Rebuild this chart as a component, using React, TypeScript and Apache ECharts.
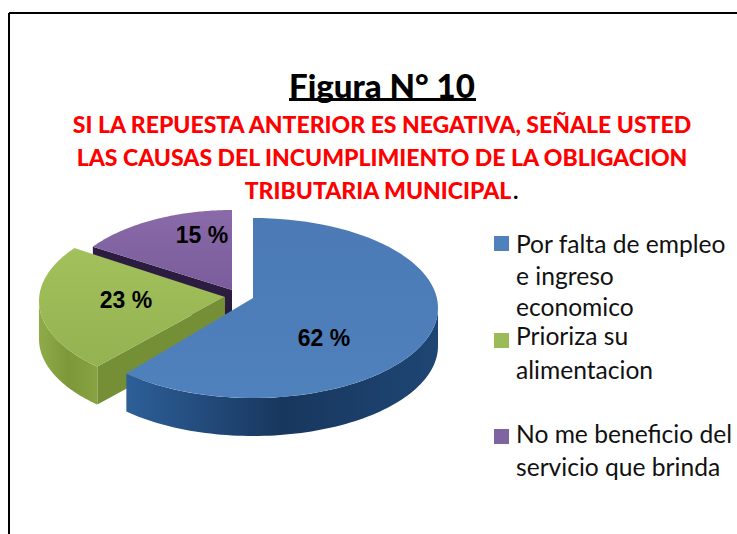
import React, { useEffect, useRef } from "react";
import * as echarts from "echarts";

const categories = ["Por falta de empleo", "Prioriza su", "No me beneficio del"];
const legendLines = [
  ["Por falta de empleo", "e ingreso", "economico"],
  ["Prioriza su", "alimentacion"],
  ["No me beneficio del", "servicio que brinda"],
];
const values = [62, 23, 15];
const titleText = "Figura N° 10";
const subtitleLines = [
  "SI LA REPUESTA ANTERIOR ES NEGATIVA, SEÑALE USTED",
  "LAS CAUSAS DEL INCUMPLIMIENTO DE LA OBLIGACION",
  "TRIBUTARIA MUNICIPAL",
];

const DEPTH = 38;
const looks = [
  { cx: 253, cy: 308, rx: 185, ry: 90, ax: 253, ay: 298, top: ["#4b7ab5", "#4f81bd"], wall: ["#1e4674", "#18375e", "#2d5f98"], cut: "#2f5f99", lx: 324, ly: 338, z: 3 },
  { cx: 224, cy: 301, rx: 185, ry: 90, ax: 225, ay: 297, top: ["#a2c05c", "#94b24f"], wall: ["#87a23f", "#7d983a", "#8fab49"], cut: "#748f36", lx: 126, ly: 300, z: 2 },
  { cx: 232, cy: 299, rx: 172, ry: 89, ax: 232, ay: 290, top: ["#8a6aa8", "#7a5c9c"], wall: ["#2e1f45", "#2e1f45", "#2e1f45"], cut: "#2c1d40", lx: 202, ly: 235, z: 1 },
];

function pt(l: any, deg: number): number[] {
  const r = (deg * Math.PI) / 180;
  return [l.cx + l.rx * Math.sin(r), l.cy - l.ry * Math.cos(r)];
}

function renderSlice(params: any, api: any) {
  const i = params.dataIndex;
  const total = values.reduce((a, b) => a + b, 0);
  const before = values.slice(0, i).reduce((a, b) => a + b, 0);
  const a0 = (before / total) * 360;
  const a1 = ((before + api.value(0)) / total) * 360;
  const l = looks[i];
  const arc: number[][] = [];
  for (let k = 0; k <= 80; k++) arc.push(pt(l, a0 + ((a1 - a0) * k) / 80));
  const children: any[] = [];
  // Cut face seen on the clockwise-start edge of slices on the left half
  if (a0 > 180) {
    const p = pt(l, a0);
    children.push({
      type: "polygon",
      z2: l.z,
      shape: { points: [[l.ax, l.ay], p, [p[0], p[1] + DEPTH], [l.ax, l.ay + DEPTH]] },
      style: { fill: l.cut },
    });
  }
  // Outer wall: the part of the rim that faces the viewer
  const w0 = Math.max(a0, 90);
  const w1 = Math.min(a1, 270);
  if (w1 > w0) {
    const rim: number[][] = [];
    for (let k = 0; k <= 80; k++) rim.push(pt(l, w0 + ((w1 - w0) * k) / 80));
    const low = rim.map((p) => [p[0], p[1] + DEPTH]).reverse();
    children.push({
      type: "polygon",
      z2: l.z,
      shape: { points: rim.concat(low) },
      style: {
        fill: new echarts.graphic.LinearGradient(1, 0, 0, 0, [
          { offset: 0, color: l.wall[0] },
          { offset: 0.5, color: l.wall[1] },
          { offset: 1, color: l.wall[2] },
        ]),
      },
    });
  }
  children.push({
    type: "polygon",
    z2: l.z,
    shape: { points: [[l.ax, l.ay], ...arc] },
    style: {
      fill: new echarts.graphic.LinearGradient(0, 0, 0, 1, [
        { offset: 0, color: l.top[0] },
        { offset: 1, color: l.top[1] },
      ]),
    },
  });
  children.push({
    type: "text",
    z2: 10,
    x: l.lx,
    y: l.ly,
    style: {
      text: `${api.value(0)} %`,
      fill: "#000",
      font: 'bold 23px "Liberation Sans"',
      align: "center",
      verticalAlign: "middle",
    },
  });
  return { type: "group", children };
}

export default function App() {
  const ref = useRef<HTMLDivElement>(null);
  useEffect(() => {
    document.body.style.margin = "0";
    const chart = echarts.init(ref.current!, null, { renderer: "svg" });
    const marks = ["#4f81bd", "#9bbb59", "#8064a2"];
    const legendY = [244, 341, 437];
    const lineY = [
      [243, 275, 306],
      [335, 369],
      [433, 466],
    ];
    const subtitleX = [382, 382, 378];
    const graphics: any[] = [
      { type: "line", shape: { x1: 9, y1: 13, x2: 737, y2: 13 }, style: { stroke: "#000", lineWidth: 2 } },
      { type: "line", shape: { x1: 9, y1: 13, x2: 9, y2: 534 }, style: { stroke: "#000", lineWidth: 2 } },
      {
        type: "text", x: 382, y: 85,
        style: { text: titleText, font: '900 33px Lato', fill: "#000", align: "center", verticalAlign: "middle" },
      },
      { type: "rect", shape: { x: 289, y: 98, width: 187, height: 3 }, style: { fill: "#000" } },
    ];
    subtitleLines.forEach((t, i) => {
      graphics.push({
        type: "text", x: subtitleX[i], y: 124 + i * 33,
        style: { text: t, font: '900 23px Lato', fill: "#ff0000", align: "center", verticalAlign: "middle" },
      });
    });
    graphics.push({
      type: "text", x: 513, y: 190,
      style: { text: ".", font: 'bold 23px Lato', fill: "#000", align: "left", verticalAlign: "middle" },
    });
    legendLines.forEach((lines, i) => {
      graphics.push({ type: "rect", shape: { x: 494, y: legendY[i] - 8, width: 15, height: 15 }, style: { fill: marks[i] } });
      lines.forEach((t, j) => {
        graphics.push({
          type: "text", x: 516, y: lineY[i][j],
          style: { text: t, font: '24.6px Lato', fill: "#111", align: "left", verticalAlign: "middle" },
        });
      });
    });
    chart.setOption({
      animation: false,
      backgroundColor: "#fff",
      graphic: graphics,
      series: [
        {
          type: "custom",
          coordinateSystem: "none",
          silent: true,
          renderItem: renderSlice,
          data: values.map((v, i) => ({ name: categories[i], value: [v] })),
        },
      ],
    });
    return () => chart.dispose();
  }, []);
  return <div ref={ref} style={{ position: "absolute", left: 0, top: 0, width: 737, height: 534 }} />;
}
